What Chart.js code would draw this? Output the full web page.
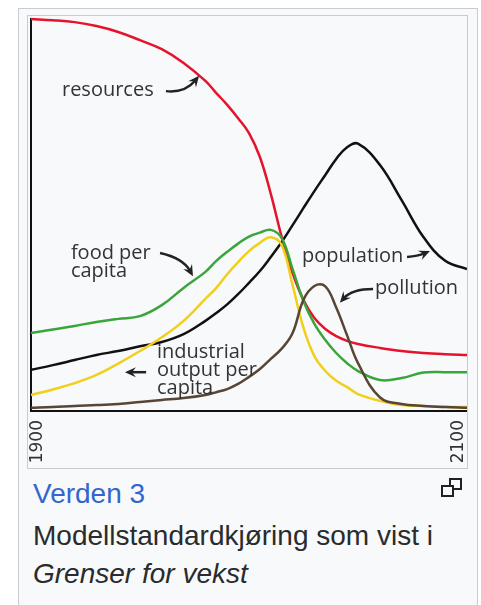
<!DOCTYPE html>
<html>
<head>
<meta charset="utf-8">
<script src="https://cdn.jsdelivr.net/npm/chart.js@4.4.1/dist/chart.umd.min.js"></script>
<style>
  html, body { margin: 0; padding: 0; background: #fff; width: 481px; height: 605px; overflow: hidden; }
  #frame { position: absolute; left: 18px; top: 8px; width: 458px; height: 640px; border: 1px solid #c8ccd1; background: #f8f9fa; }
  #img { position: absolute; left: 27px; top: 15px; width: 439px; height: 452px; border: 1px solid #c8ccd1; background: #f8f9fa; }
  #chart { position: absolute; left: 28px; top: 16px; }
  .cap { position: absolute; left: 33px; font-family: "Liberation Sans", Arial, sans-serif; font-size: 28px; line-height: 28px; color: #2a2b2c; white-space: nowrap; }
  #title { color: #3366cc; top: 480px; }
  #line1 { top: 522px; }
  #line2 { top: 560px; font-style: italic; }
  .sq { position: absolute; width: 9px; height: 8px; border: 2px solid #202122; }
</style>
</head>
<body>
<div id="frame"></div>
<div id="img"></div>
<canvas id="chart" width="439" height="452"></canvas>
<div class="cap" id="title">Verden 3</div>
<div class="cap" id="line1">Modellstandardkjøring som vist i</div>
<div class="cap" id="line2">Grenser for vekst</div>
<div class="sq" style="left:449px; top:478px; background:#f8f9fa;"></div>
<div class="sq" style="left:441px; top:485px; background:#f8f9fa;"></div>

<script>
// World3 standard run (relative units 0-100)
const years = [1900, 1910, 1920, 1930, 1940, 1950, 1960, 1970, 1980, 1985, 1990, 1995, 2000, 2005,
               2010, 2015, 2020, 2025, 2030, 2035, 2040, 2045, 2050, 2060, 2070, 2080, 2090, 2100];

const resources  = [100, 99.7, 99.2, 98.2, 96.7, 94.6, 92.3, 88.8, 84.2, 81.1, 78.1, 74.7, 70.9, 64.8,
                    55.4, 44.4, 35.2, 28.3, 23.7, 20.9, 19.1, 17.9, 17.1, 16.1, 15.3, 14.8, 14.5, 14.3];
const population = [10.5, 11.7, 13.0, 14.3, 15.3, 16.5, 17.6, 19.6, 23.0, 25.0, 27.2, 29.8, 32.7, 35.7,
                    39.3, 43.1, 47.4, 51.8, 56.1, 60.2, 64.3, 67.3, 68.2, 62.8, 53.8, 44.4, 38.3, 36.2];
const food       = [19.9, 20.8, 21.7, 22.7, 23.5, 24.2, 27.0, 31.4, 35.5, 38.3, 40.6, 42.7, 44.5, 45.5,
                    46.2, 44.1, 36.2, 28.0, 22.2, 18.1, 14.8, 12.2, 10.2, 7.9, 8.4, 9.8, 9.9, 9.9];
const industry   = [4.1, 5.5, 7.1, 9.2, 12.1, 15.3, 18.8, 23.0, 28.6, 31.4, 34.9, 38.0, 40.8, 42.9,
                    44.3, 42.3, 32.1, 21.2, 14.0, 10.2, 7.7, 6.1, 4.3, 2.6, 1.5, 1.3, 1.1, 1.0];
const pollution  = [0.8, 1.0, 1.3, 1.5, 1.8, 2.3, 2.8, 3.3, 4.1, 4.8, 5.6, 6.9, 8.7, 10.7,
                    13.3, 15.9, 19.9, 28.4, 31.9, 31.8, 26.4, 19.3, 12.2, 3.5, 1.8, 1.3, 1.0, 0.8];

const axisLabels = ['1900', '2100'];

// annotation texts, placed in data units (year, value) at the left/middle of the first line
const notes = [
    { lines: ['resources'], x: 1914.2, y: 81.9 },
    { lines: ['food per', 'capita'], x: 1918.3, y: 40.3 },
    { lines: ['population'], x: 2024.3, y: 39.5 },
    { lines: ['pollution'], x: 2057.8, y: 31.4 },
    { lines: ['industrial', 'output per', 'capita'], x: 1957.8, y: 15.1 }
];

// curved pointer arrows: tail, control, head (data units)
const arrows = [
    [[1961.9, 81.6], [1970.6, 81.1], [1977.1, 85.5]],
    [[1959.2, 40.3], [1969.7, 39.0], [1974.3, 34.4]],
    [[2072.5, 39.3], [2077.5, 39.5], [2083.0, 40.8]],
    [[2056.9, 31.1], [2047.2, 31.1], [2041.7, 27.6]],
    [[1952.8, 9.9], [1947.7, 9.9], [1943.1, 9.9]]
];

function series(values, color) {
    return {
        data: years.map((yr, i) => ({ x: yr, y: values[i] })),
        borderColor: color,
        borderWidth: 2.5,
        pointRadius: 0,
        tension: 0.4,
        clip: false
    };
}

const annotate = {
    id: 'annotate',
    afterDatasetsDraw(chart) {
        const ctx = chart.ctx;
        const xs = chart.scales.x;
        const ys = chart.scales.y;
        ctx.save();
        ctx.fillStyle = '#333';
        ctx.font = '20px "Open Sans", sans-serif';
        ctx.textBaseline = 'middle';
        ctx.textAlign = 'left';
        notes.forEach(n => {
            n.lines.forEach((t, i) => {
                ctx.fillText(t, xs.getPixelForValue(n.x), ys.getPixelForValue(n.y) + i * 18);
            });
        });

        ctx.strokeStyle = '#222';
        ctx.fillStyle = '#222';
        ctx.lineWidth = 2.5;
        arrows.forEach(a => {
            const p = a.map(q => [xs.getPixelForValue(q[0]), ys.getPixelForValue(q[1])]);
            const ang = Math.atan2(p[2][1] - p[1][1], p[2][0] - p[1][0]);
            const back = [p[2][0] - 6 * Math.cos(ang), p[2][1] - 6 * Math.sin(ang)];
            ctx.beginPath();
            ctx.moveTo(p[0][0], p[0][1]);
            ctx.quadraticCurveTo(p[1][0], p[1][1], back[0], back[1]);
            ctx.stroke();
            ctx.beginPath();
            ctx.moveTo(p[2][0], p[2][1]);
            ctx.lineTo(p[2][0] - 11 * Math.cos(ang) + 5 * Math.sin(ang), p[2][1] - 11 * Math.sin(ang) - 5 * Math.cos(ang));
            ctx.lineTo(p[2][0] - 7 * Math.cos(ang), p[2][1] - 7 * Math.sin(ang));
            ctx.lineTo(p[2][0] - 11 * Math.cos(ang) - 5 * Math.sin(ang), p[2][1] - 11 * Math.sin(ang) + 5 * Math.cos(ang));
            ctx.closePath();
            ctx.fill();
        });

        // rotated year labels just inside the ends of the time axis
        ctx.fillStyle = '#333';
        ctx.font = '17px "DejaVu Sans", sans-serif';
        ctx.textAlign = 'right';
        const ends = [xs.getPixelForValue(xs.min) + 7, xs.getPixelForValue(xs.max) - 8.5];
        axisLabels.forEach((t, i) => {
            ctx.save();
            ctx.translate(ends[i], xs.top + 9);
            ctx.rotate(-Math.PI / 2);
            ctx.fillText(t, 0, 0);
            ctx.restore();
        });
        ctx.restore();
    }
};

new Chart(document.getElementById('chart').getContext('2d'), {
    type: 'line',
    data: {
        datasets: [
            series(pollution, '#574535'),
            series(industry, '#f1cf1b'),
            series(food, '#3aa53a'),
            series(population, '#111111'),
            series(resources, '#e5132c')
        ]
    },
    options: {
        responsive: false,
        animation: false,
        devicePixelRatio: 1,
        layout: { padding: { left: 3, top: 3, right: 0, bottom: 0 } },
        plugins: { legend: { display: false }, tooltip: { enabled: false } },
        scales: {
            x: {
                type: 'linear', min: 1900, max: 2100,
                grid: { display: false, drawTicks: false },
                ticks: { display: false },
                border: { display: true, color: '#111', width: 2 },
                afterFit: function(scale) { scale.height = 57; }
            },
            y: {
                min: 0, max: 100,
                grid: { display: false, drawTicks: false },
                ticks: { display: false },
                border: { display: true, color: '#111', width: 2 },
                afterFit: function(scale) { scale.width = 0; }
            }
        }
    },
    plugins: [annotate]
});
</script>
</body>
</html>
